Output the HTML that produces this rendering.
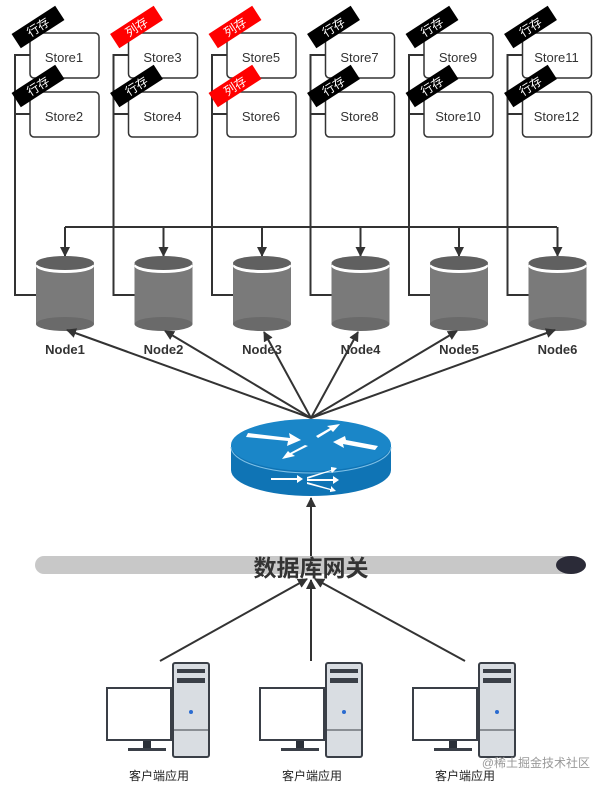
<!DOCTYPE html>
<html><head><meta charset="utf-8"><style>
html,body{margin:0;padding:0;background:#fff}
svg{display:block;font-family:"Liberation Sans","Noto Sans CJK SC",sans-serif}
</style></head><body>
<svg width="606" height="790" viewBox="0 0 606 790" xmlns="http://www.w3.org/2000/svg">
<defs>
<marker id="ah" markerWidth="10" markerHeight="10" refX="9" refY="5" orient="auto" markerUnits="userSpaceOnUse">
<path d="M0,0 L10,5 L0,10 z" fill="#333"/></marker>
<g id="col">
<path d="M30,55 H15 V295 H37 M15,114 H30" fill="none" stroke="#333" stroke-width="2"/>
<rect x="30" y="33" width="69" height="45" rx="4" fill="#fff" stroke="#333" stroke-width="1.5"/>
<rect x="30" y="92" width="69" height="45" rx="4" fill="#fff" stroke="#333" stroke-width="1.5"/>
<line x1="65" y1="227" x2="65" y2="256" stroke="#333" stroke-width="2" marker-end="url(#ah)"/>
<rect x="36" y="264" width="58" height="60" fill="#7a7a7a"/>
<ellipse cx="65" cy="324" rx="29" ry="7" fill="#6a6a6a"/>
<ellipse cx="65" cy="266" rx="29" ry="7" fill="#fff"/>
<ellipse cx="65" cy="263" rx="29" ry="7" fill="#606060"/>
</g>
</defs>
<line x1="65" y1="227" x2="557" y2="227" stroke="#333" stroke-width="2"/>
<use href="#col"/>
<use href="#col" transform="translate(98.5,0)"/>
<use href="#col" transform="translate(197,0)"/>
<use href="#col" transform="translate(295.5,0)"/>
<use href="#col" transform="translate(394,0)"/>
<use href="#col" transform="translate(492.5,0)"/>
<g font-size="13" fill="#333" text-anchor="middle">
<text x="64" y="62">Store1</text><text x="64" y="121">Store2</text>
<text x="162.5" y="62">Store3</text><text x="162.5" y="121">Store4</text>
<text x="261" y="62">Store5</text><text x="261" y="121">Store6</text>
<text x="359.5" y="62">Store7</text><text x="359.5" y="121">Store8</text>
<text x="458" y="62">Store9</text><text x="458" y="121">Store10</text>
<text x="556.5" y="62">Store11</text><text x="556.5" y="121">Store12</text>
</g>
<g font-size="13" font-weight="bold" fill="#333" text-anchor="middle">
<text x="65" y="354">Node1</text><text x="163.5" y="354">Node2</text><text x="262" y="354">Node3</text>
<text x="360.5" y="354">Node4</text><text x="459" y="354">Node5</text><text x="557.5" y="354">Node6</text>
</g>
<g font-size="12" fill="#fff" text-anchor="middle">
<g transform="translate(38,27) rotate(-33)"><rect x="-26" y="-8.5" width="52" height="17" fill="#000"/><text y="4.5">行存</text></g>
<g transform="translate(38,86) rotate(-33)"><rect x="-26" y="-8.5" width="52" height="17" fill="#000"/><text y="4.5">行存</text></g>
<g transform="translate(136.5,27) rotate(-33)"><rect x="-26" y="-8.5" width="52" height="17" fill="#f00"/><text y="4.5">列存</text></g>
<g transform="translate(136.5,86) rotate(-33)"><rect x="-26" y="-8.5" width="52" height="17" fill="#000"/><text y="4.5">行存</text></g>
<g transform="translate(235,27) rotate(-33)"><rect x="-26" y="-8.5" width="52" height="17" fill="#f00"/><text y="4.5">列存</text></g>
<g transform="translate(235,86) rotate(-33)"><rect x="-26" y="-8.5" width="52" height="17" fill="#f00"/><text y="4.5">列存</text></g>
<g transform="translate(333.5,27) rotate(-33)"><rect x="-26" y="-8.5" width="52" height="17" fill="#000"/><text y="4.5">行存</text></g>
<g transform="translate(333.5,86) rotate(-33)"><rect x="-26" y="-8.5" width="52" height="17" fill="#000"/><text y="4.5">行存</text></g>
<g transform="translate(432,27) rotate(-33)"><rect x="-26" y="-8.5" width="52" height="17" fill="#000"/><text y="4.5">行存</text></g>
<g transform="translate(432,86) rotate(-33)"><rect x="-26" y="-8.5" width="52" height="17" fill="#000"/><text y="4.5">行存</text></g>
<g transform="translate(530.5,27) rotate(-33)"><rect x="-26" y="-8.5" width="52" height="17" fill="#000"/><text y="4.5">行存</text></g>
<g transform="translate(530.5,86) rotate(-33)"><rect x="-26" y="-8.5" width="52" height="17" fill="#000"/><text y="4.5">行存</text></g>
</g>
<g stroke="#333" stroke-width="2" marker-end="url(#ah)">
<line x1="311" y1="418" x2="67" y2="330"/>
<line x1="311" y1="418" x2="165" y2="331"/>
<line x1="311" y1="418" x2="264" y2="332"/>
<line x1="311" y1="418" x2="358" y2="332"/>
<line x1="311" y1="418" x2="457" y2="331"/>
<line x1="311" y1="418" x2="555" y2="330"/>
<line x1="311" y1="556" x2="311" y2="498"/>
<line x1="160" y1="661" x2="307" y2="579"/>
<line x1="311" y1="661" x2="311" y2="580"/>
<line x1="465" y1="661" x2="315" y2="579"/>
</g>
<path d="M231,445 V470 A80,26 0 0 0 391,470 V445 Z" fill="#0f74b5"/>
<ellipse cx="311" cy="445" rx="80" ry="26" fill="#1a86c8"/>
<path d="M231,447 A80,26 0 0 0 391,447" fill="none" stroke="#7fc0e6" stroke-width="1"/>
<g fill="#fff">
<path d="M248,433 L290,438 L289,433 L301,440 L287,446 L288,441 L246,437 Z"/>
<path d="M316,436 L330,428 L327,426 L340,424 L333,432 L331,430 L318,438 Z"/>
<path d="M333,442 L345,436 L346,440 L378,446 L375,450 L343,444 L344,448 Z"/>
<path d="M308,446 L292,454 L295,456 L282,459 L288,451 L290,453 L305,445 Z"/>
<path d="M271,478 L297,478 L297,475 L303,479 L297,483 L297,480 L271,480 Z"/>
<path d="M307,477 L331,470 L331,467 L337,468 L332,473 L331,471 L307,479 Z"/>
<path d="M307,479 L333,479 L333,476 L339,480 L333,484 L333,481 L307,481 Z"/>
<path d="M307,482 L331,489 L331,486 L336,491 L330,492 L330,490 L307,484 Z"/>
</g>
<rect x="35" y="556" width="540" height="18" rx="9" fill="#c8c8c8"/>
<ellipse cx="571" cy="565" rx="15" ry="9" fill="#2b2b38"/>
<text x="311" y="576" font-size="23" font-weight="bold" fill="#333" text-anchor="middle">数据库网关</text>
<g id="pc">
<rect x="173" y="663" width="36" height="94" rx="2" fill="#d9dde2" stroke="#3a3f47" stroke-width="2"/>
<rect x="177" y="669" width="28" height="4" fill="#3a3f47"/>
<rect x="177" y="678" width="28" height="5" fill="#3a3f47"/>
<line x1="173" y1="730" x2="209" y2="730" stroke="#3a3f47" stroke-width="1"/>
<circle cx="191" cy="712" r="2" fill="#2a6bd0"/>
<rect x="107" y="688" width="64" height="52" fill="#fff" stroke="#3a3f47" stroke-width="2"/>
<rect x="143" y="741" width="8" height="8" fill="#2b3038"/>
<rect x="128" y="748" width="38" height="3" fill="#3a3f47"/>
<text x="159" y="780" font-size="12" fill="#222" text-anchor="middle">客户端应用</text>
</g>
<use href="#pc" transform="translate(153,0)"/>
<use href="#pc" transform="translate(306,0)"/>
<text x="590" y="767" font-size="12" fill="#999" text-anchor="end">@稀土掘金技术社区</text>
</svg>
</body></html>
